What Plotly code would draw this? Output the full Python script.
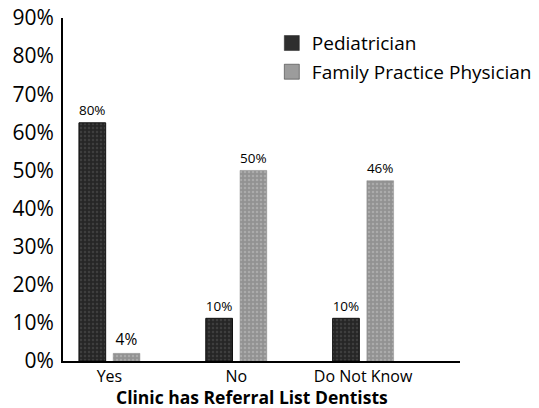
import plotly.graph_objects as go

categories = ["Yes", "No", "Do Not Know"]
pediatrician = [62.5, 11.2, 11.2]
family = [2.0, 50.0, 47.3]
ped_labels = ["80%", "10%", "10%"]
fam_labels = ["4%", "50%", "46%"]
y_ticks = [0, 10, 20, 30, 40, 50, 60, 70, 80, 90]
y_tick_text = [f"{v}%" for v in y_ticks]

FONT = "Open Sans, sans-serif"
PED_COLOR = "#2e2e2e"
FAM_COLOR = "#9c9c9c"

fig = go.Figure()
fig.add_trace(go.Bar(
    x=categories, y=pediatrician, name="Pediatrician", showlegend=False,
    text=ped_labels, textposition="outside", cliponaxis=False,
    textfont=dict(size=15.5, color="black", family=FONT),
    marker=dict(color=PED_COLOR, line=dict(color="#111111", width=1),
                pattern=dict(shape=".", fgcolor="#555555", bgcolor="#262626", size=4, solidity=0.3)),
))
fig.add_trace(go.Bar(
    x=categories, y=family, name="Family Practice Physician", showlegend=False,
    text=fam_labels, textposition="outside", cliponaxis=False,
    textfont=dict(size=15.5, color="black", family=FONT),
    marker=dict(color=FAM_COLOR, line=dict(color="#8a8a8a", width=0.5),
                pattern=dict(shape=".", fgcolor="#c4c4c4", bgcolor="#929292", size=4, solidity=0.3)),
))
# legend entries with square swatches
for name, col, grp in [("Pediatrician", PED_COLOR, "a"), ("Family Practice Physician", FAM_COLOR, "b")]:
    fig.add_trace(go.Scatter(
        x=[None], y=[None], mode="markers", name=name, legendgroup=grp,
        marker=dict(symbol="square", size=15, color=col, line=dict(color="#222222", width=0.5)),
        showlegend=True,
    ))

fig.update_layout(
    width=539, height=408,
    margin=dict(l=63, r=79, t=18, b=47, autoexpand=False),
    paper_bgcolor="white", plot_bgcolor="white",
    barmode="group", bargap=0.46, bargroupgap=0.22,
    font=dict(family=FONT, color="black"),
    showlegend=True,
    legend=dict(x=0.526, y=0.982, xanchor="left", yanchor="top",
                font=dict(size=19, family=FONT, color="black"),
                bgcolor="rgba(0,0,0,0)", tracegroupgap=1,
                itemwidth=30),
    xaxis=dict(range=[-0.366, 2.764], showline=True, linecolor="black", linewidth=2,
               showgrid=False, ticks="", tickfont=dict(size=16, family=FONT),
               automargin=False),
    yaxis=dict(range=[0, 90], tickvals=y_ticks, ticktext=y_tick_text,
               showline=True, linecolor="black", linewidth=2, showgrid=False,
               automargin=False, ticklabelstandoff=3,
               zeroline=False, ticks="", tickfont=dict(size=21, family=FONT)),
    annotations=[dict(text="<b>Clinic has Referral List Dentists</b>",
                      xref="paper", yref="paper", x=0.476, y=-0.106,
                      xanchor="center", yanchor="middle", showarrow=False,
                      font=dict(size=17.5, family=FONT, color="black"))],
)

fig.write_html("out.html", config={"displayModeBar": False},
               post_script="document.body.style.margin='0';document.body.style.overflow='hidden';")
